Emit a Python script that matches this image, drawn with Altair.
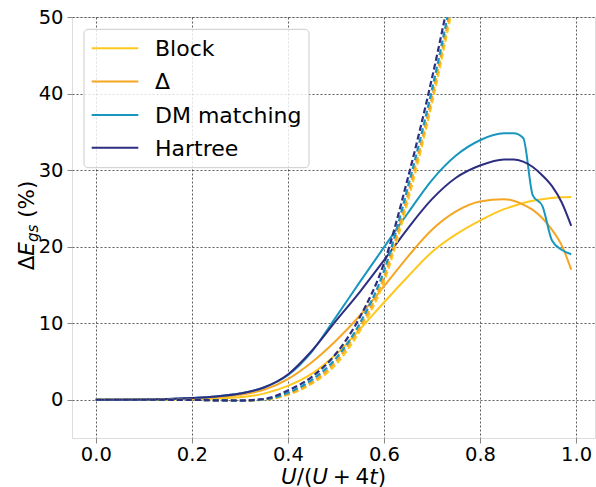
import altair as alt
import pandas as pd

# ---------------- data ----------------
names = ["Block", "Δ", "DM matching", "Hartree"]
colors = ["#FFC81E", "#F5A623", "#1896BE", "#2D2D82"]

x_solid = [0.0, 0.1, 0.2, 0.25, 0.3, 0.35, 0.4, 0.45, 0.5, 0.55, 0.6, 0.65, 0.7,
           0.75, 0.8, 0.85, 0.87, 0.89, 0.91, 0.93, 0.95, 0.97, 0.99]
block = [0, 0.01, 0.06, 0.15, 0.32, 0.8, 1.8, 3.4, 5.9, 9.2, 12.7, 16.1, 19.3,
         21.6, 23.4, 24.9, 25.3, 25.7, 26.0, 26.2, 26.35, 26.45, 26.5]
delta = [0, 0.02, 0.15, 0.32, 0.65, 1.3, 2.7, 4.9, 7.7, 11.0, 14.8, 18.7, 22.2,
         24.6, 25.9, 26.2, 26.0, 25.5, 24.8, 23.7, 22.2, 20.2, 17.0]
dm = [0, 0.02, 0.22, 0.42, 0.8, 1.6, 3.2, 6.3, 10.8, 15.4, 19.9, 24.4, 28.7,
      31.9, 33.9, 34.8, 34.8, 34.2, 26.7, 25.3, 20.8, 19.6, 19.0]
hartree = [0, 0.03, 0.22, 0.42, 0.8, 1.6, 3.3, 6.4, 10.3, 14.1, 18.2, 22.4, 26.2,
           29.0, 30.6, 31.4, 31.4, 31.1, 30.4, 29.3, 27.9, 25.8, 22.7]

x_dash = [0.0, 0.1, 0.2, 0.25, 0.3, 0.35, 0.4, 0.45, 0.5, 0.55, 0.6, 0.65, 0.7, 0.75]
block_d = [0, 0, -0.02, -0.08, -0.12, 0.0, 0.65, 2.1, 4.6, 9.0, 15.4, 26.0, 38.7, 53.5]
delta_d = [0, 0, -0.02, -0.08, -0.12, 0.02, 0.75, 2.3, 5.0, 9.5, 16.0, 26.8, 39.5, 54.5]
dm_d = [0, 0, -0.02, -0.08, -0.12, 0.05, 0.9, 2.6, 5.4, 10.0, 16.8, 27.8, 40.5, 55.5]
hartree_d = [0, 0, -0.02, -0.08, -0.1, 0.1, 1.2, 3.0, 6.0, 10.8, 17.8, 29.0, 42.0, 57.0]

x_ticks = [0.0, 0.2, 0.4, 0.6, 0.8, 1.0]
y_ticks = [0, 10, 20, 30, 40, 50]

# ---------------- tables ----------------
rows_s, rows_d = [], []
for k, (nm, ys) in enumerate(zip(names, [block, delta, dm, hartree])):
    for i, (xv, yv) in enumerate(zip(x_solid, ys)):
        rows_s.append({"x": xv, "y": yv, "series": nm, "k": k, "i": i})
for k, (nm, ys) in enumerate(zip(names, [block_d, delta_d, dm_d, hartree_d])):
    for i, (xv, yv) in enumerate(zip(x_dash, ys)):
        rows_d.append({"x": xv, "y": yv, "series": nm, "k": k, "i": i})
df_s = pd.DataFrame(rows_s)
df_d = pd.DataFrame(rows_d)

FONT = "DejaVu Sans"
W, H = 523, 421

xscale = alt.Scale(domain=[-0.0495, 1.0395], nice=False, zero=False)
yscale = alt.Scale(domain=[-5, 50], nice=False, zero=False)
cscale = alt.Scale(domain=names, range=colors)

xaxis = alt.Axis(values=x_ticks, format=".1f", title=None, labelFontSize=19.5,
                 labelFont=FONT, labelColor="black", tickSize=5, tickColor="#888",
                 labelPadding=2, grid=True, gridDash=[2, 2], gridColor="#333",
                 gridWidth=0.8, domain=False, labelFlush=False)
yaxis = alt.Axis(values=y_ticks, format="d", title=None, labelFontSize=19.5,
                 labelFont=FONT, labelColor="black", tickSize=5, tickColor="#888",
                 labelPadding=4, grid=True, gridDash=[2, 2], gridColor="#333",
                 gridWidth=0.8, domain=False)

solid = alt.Chart(df_s).mark_line(strokeWidth=2, interpolate="monotone", clip=True).encode(
    x=alt.X("x:Q", scale=xscale, axis=xaxis),
    y=alt.Y("y:Q", scale=yscale, axis=yaxis),
    color=alt.Color("series:N", scale=cscale, legend=None),
    detail="k:N",
    order="i:Q",
)
dashed = alt.Chart(df_d).mark_line(strokeWidth=2.2, strokeDash=[6, 3],
                                   interpolate="monotone", clip=True).encode(
    x=alt.X("x:Q", scale=xscale, axis=xaxis),
    y=alt.Y("y:Q", scale=yscale, axis=yaxis),
    color=alt.Color("series:N", scale=cscale, legend=None),
    detail="k:N",
    order="i:Q",
)

one = pd.DataFrame({"d": [0]})
layers = [solid, dashed]

# ---------------- legend (manual) ----------------
layers.append(alt.Chart(one).mark_rect(fill="white", fillOpacity=0.8, stroke="#cccccc",
                                       strokeWidth=1, cornerRadius=4).encode(
    x=alt.value(12), x2=alt.value(237), y=alt.value(12.3), y2=alt.value(150.7)))
row_y = [31.3, 64.6, 97.9, 130.8]
for nm, col, ry in zip(names, colors, row_y):
    layers.append(alt.Chart(one).mark_rule(color=col, strokeWidth=2).encode(
        x=alt.value(19.7), x2=alt.value(66.3), y=alt.value(ry)))
    layers.append(alt.Chart(one).mark_text(text=nm, align="left", baseline="alphabetic",
                                           font=FONT, fontSize=22, color="black").encode(
        x=alt.value(83), y=alt.value(ry + 7.7)))

# ---------------- x title: U/(U + 4t) ----------------
F = 21.5
pieces_x = [("U", True, 0.0, 0.732), ("/", False, 0.0, 0.337), ("(", False, 0.0, 0.390),
            ("U", True, 0.0, 0.732), ("+", False, 0.222, 0.838 + 0.222),
            ("4", False, 0.0, 0.636), ("t", True, 0.0, 0.392), (")", False, 0.0, 0.390)]
total = sum(p[2] + p[3] for p in pieces_x) * F
cx = W / 2 - total / 2
for txt, ital, pre, adv in pieces_x:
    cx += pre * F
    layers.append(alt.Chart(one).mark_text(text=txt, align="left", baseline="alphabetic",
                                           font=FONT, fontSize=F, color="black",
                                           fontStyle="italic" if ital else "normal").encode(
        x=alt.value(cx), y=alt.value(466.5)))
    cx += adv * F

# ---------------- y title: ΔE_gs (%) ----------------
pieces_y = [("Δ", False, F, 0.0, 0.0, 0.684 * F),
            ("E", True, F, 0.0, 0.0, 0.632 * F),
            ("gs", True, 0.7 * F, 4.5, 0.0, 1.156 * 0.7 * F),
            ("(%)", False, F, 0.0, 0.318 * F, 1.730 * F)]
total_y = sum(p[4] + p[5] for p in pieces_y)
cy = H / 2 + total_y / 2 - 2
for txt, ital, fs, shift, pre, adv in pieces_y:
    cy -= pre
    layers.append(alt.Chart(one).mark_text(text=txt, align="left", baseline="alphabetic",
                                           angle=270, font=FONT, fontSize=fs, color="black",
                                           fontStyle="italic" if ital else "normal").encode(
        x=alt.value(-38.5 + shift), y=alt.value(cy)))
    cy -= adv

chart = alt.layer(*layers).properties(
    width=W, height=H,
    autosize=alt.AutoSizeParams(type="none"),
    padding={"left": 72, "top": 17, "right": 1, "bottom": 49},
).configure_view(stroke="#999999", strokeWidth=1).configure(background="white")

chart.save("out.html", embed_options={"renderer": "svg", "actions": False})
